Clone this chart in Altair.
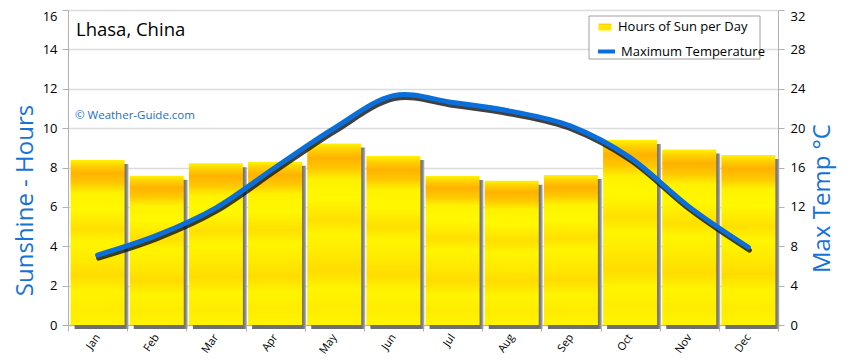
import altair as alt
import pandas as pd

months = ["Jan", "Feb", "Mar", "Apr", "May", "Jun", "Jul", "Aug", "Sep", "Oct", "Nov", "Dec"]
sun_hours = [8.38, 7.58, 8.21, 8.29, 9.22, 8.58, 7.57, 7.33, 7.62, 9.40, 8.92, 8.63]
max_temp = [7.1, 9.1, 11.9, 16.0, 20.0, 23.3, 22.6, 21.7, 20.2, 17.0, 12.0, 7.9]
sun_label = "Hours of Sun per Day"
temp_label = "Maximum Temperature"
left_ticks = [0, 2, 4, 6, 8, 10, 12, 14, 16]
right_ticks = [0, 4, 8, 12, 16, 20, 24, 28, 32]

df = pd.DataFrame({
    "month": months,
    "sun": sun_hours,
    "temp": max_temp,
    "sun_series": [sun_label] * 12,
    "temp_series": [temp_label] * 12,
})

FONT = "Open Sans"
BLUE = "#1572D6"
LINE_BLUE = "#0A6FDB"

x_enc = alt.X(
    "month:N", sort=months, title=None,
    scale=alt.Scale(paddingInner=0, paddingOuter=0),
    axis=alt.Axis(labelAngle=305, tickBand="extent", tickSize=6, tickColor="#b0b0b0",
                  domainColor="#b0b0b0", labelFont=FONT, labelFontSize=11,
                  labelColor="#000", labelPadding=4, grid=False),
)

y_left = alt.Y(
    "sun:Q", scale=alt.Scale(domain=[0, 16], nice=False),
    axis=alt.Axis(values=left_ticks, title="Sunshine - Hours", grid=True,
                  gridColor="#dcdcdc", gridWidth=1.5, domainColor="#b0b0b0",
                  tickColor="#b0b0b0", tickSize=6, labelFont=FONT, labelFontSize=13,
                  labelColor="#000", labelPadding=5,
                  labelOffset={"condition": {"test": "datum.value >= 16", "value": 6}, "value": 0},
                  titleFont=FONT, titleFontSize=24, titleFontWeight="normal",
                  titleColor=BLUE, titleAngle=270, titleBaseline="middle",
                  titleX=-43, titleY=190, titleAlign="center"),
)

y_right = alt.Y(
    "temp:Q", scale=alt.Scale(domain=[0, 32], nice=False),
    axis=alt.Axis(orient="right", values=right_ticks, title="Max Temp °C", grid=False,
                  domainColor="#b0b0b0", tickColor="#b0b0b0", tickSize=6,
                  labelFont=FONT, labelFontSize=13, labelColor="#000", labelPadding=6,
                  labelOffset={"condition": {"test": "datum.value >= 32", "value": 6}, "value": 0},
                  titleFont=FONT, titleFontSize=24, titleFontWeight="normal",
                  titleColor=BLUE, titleAngle=270, titleBaseline="middle",
                  titleX=44, titleY=188, titleAlign="center"),
)

sun_legend = alt.Legend(
    title=None, orient="none", legendX=530, legendY=10, padding=0,
    labelFont=FONT, labelFontSize=13, labelColor="#000", labelOffset=6,
    symbolType="M-1,-0.55H1V0.55H-1Z", symbolSize=169, symbolOpacity=1,
    symbolFillColor="#FFE000", symbolStrokeColor="#FFB400", symbolStrokeWidth=1,
)
temp_legend = alt.Legend(
    title=None, orient="none", legendX=528, legendY=31, padding=0,
    labelFont=FONT, labelFontSize=13, labelColor="#000", labelOffset=4,
    symbolType="stroke", symbolSize=289, symbolOpacity=1,
    symbolStrokeWidth=4,
)

bar_grad = alt.Gradient(
    gradient="linear", x1=0, x2=0, y1=0, y2=1,
    stops=[
        alt.GradientStop(color="#FFF400", offset=0),
        alt.GradientStop(color="#FFD400", offset=0.03),
        alt.GradientStop(color="#FFB200", offset=0.08),
        alt.GradientStop(color="#FFC800", offset=0.14),
        alt.GradientStop(color="#FFF200", offset=0.2),
        alt.GradientStop(color="#FFF800", offset=0.3),
        alt.GradientStop(color="#FFE000", offset=0.42),
        alt.GradientStop(color="#FFF500", offset=0.5),
        alt.GradientStop(color="#FFE800", offset=0.62),
        alt.GradientStop(color="#FFDC00", offset=0.7),
        alt.GradientStop(color="#FFF400", offset=0.8),
        alt.GradientStop(color="#FFEC00", offset=0.9),
        alt.GradientStop(color="#FFF400", offset=1),
    ],
)

shadow_grad = alt.Gradient(
    gradient="linear", x1=0, x2=1, y1=0, y2=0,
    stops=[
        alt.GradientStop(color="#6e6e6e", offset=0),
        alt.GradientStop(color="#6e6e6e", offset=0.93),
        alt.GradientStop(color="#8a8a8a", offset=0.97),
        alt.GradientStop(color="#c4c4c4", offset=1),
    ],
)

shadow = alt.Chart(df).mark_bar(width=54, xOffset=4, yOffset=4, y2Offset=0,
                                color=shadow_grad).encode(x=x_enc, y=y_left)
bars = alt.Chart(df).mark_bar(width=54, color=bar_grad).encode(
    x=x_enc, y=y_left,
    opacity=alt.Opacity("sun_series:O", scale=alt.Scale(domain=[sun_label], range=[1]),
                        legend=sun_legend),
)
bar_layer = alt.layer(shadow, bars)

line_shadow = alt.Chart(df).mark_line(
    color="#111111", strokeWidth=5, xOffset=1, yOffset=3, interpolate="cardinal",
    opacity=0.8, strokeCap="round",
).encode(x=x_enc, y=y_right)
line = alt.Chart(df).mark_line(
    strokeWidth=5, interpolate="cardinal", strokeCap="round",
).encode(
    x=x_enc, y=y_right,
    color=alt.Color("temp_series:N",
                    scale=alt.Scale(domain=[temp_label], range=[LINE_BLUE]),
                    legend=temp_legend),
)
line_layer = alt.layer(line_shadow, line)

legend_box = alt.Chart(pd.DataFrame({"k": [0]})).mark_rect(
    fill="white", stroke="#a0a0a0", strokeWidth=1,
).encode(x=alt.value(521), x2=alt.value(692), y=alt.value(6), y2=alt.value(49))

title_txt = alt.Chart(pd.DataFrame({"t": ["Lhasa, China"]})).mark_text(
    align="left", baseline="middle", font=FONT, fontSize=18.5, color="#000",
).encode(text="t:N", x=alt.value(8), y=alt.value(20))
credit_txt = alt.Chart(pd.DataFrame({"t": ["© Weather-Guide.com"]})).mark_text(
    align="left", baseline="middle", font=FONT, fontSize=11.5, color="#1A6FD0",
).encode(text="t:N", x=alt.value(7), y=alt.value(106))

chart = alt.layer(bar_layer, line_layer, legend_box, title_txt, credit_txt).resolve_scale(
    y="independent"
).properties(
    width=710, height=315,
    autosize=alt.AutoSizeParams(type="none"),
    padding={"left": 60, "top": 2, "right": 64, "bottom": 31},
).configure_view(stroke=None)

chart.save("out.html", embed_options={"renderer": "svg", "actions": False})
